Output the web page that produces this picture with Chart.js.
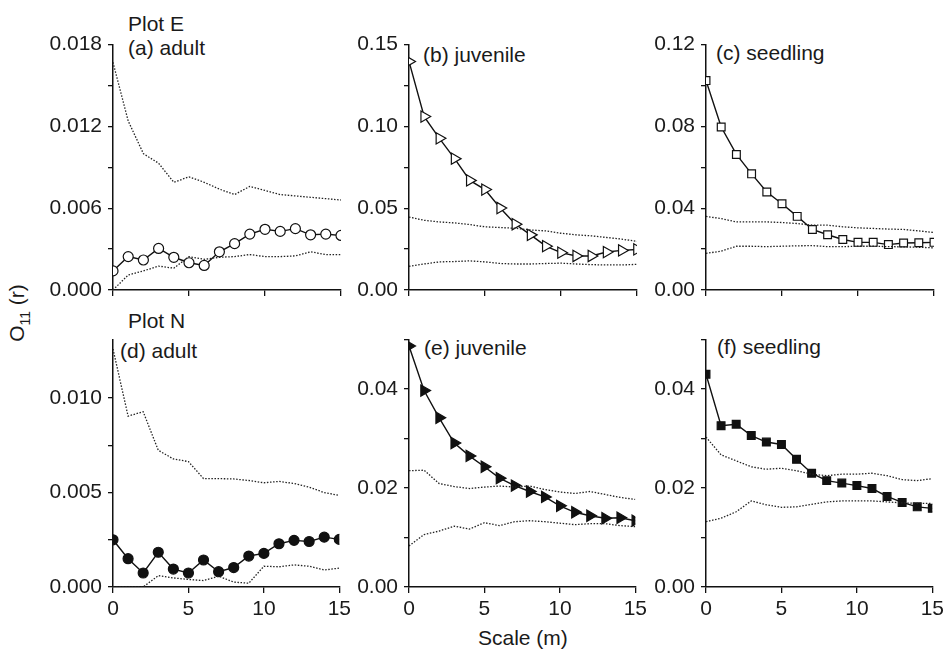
<!DOCTYPE html>
<html lang="en">
<head>
    <meta charset="UTF-8">
    <title>O11 (r) by scale</title>
    <script src="https://cdn.jsdelivr.net/npm/chart.js"></script>
    <style>
        body {
            margin: 0;
            background: #fff;
            font-family: "Liberation Sans", Arial, sans-serif;
        }
        #wrap {
            position: relative;
            width: 946px;
            height: 650px;
        }
        #wrap canvas {
            position: absolute;
        }
        .lbl {
            position: absolute;
            font-size: 21px;
            color: #1a1a1a;
            white-space: nowrap;
            line-height: 1;
        }
        #ytitle {
            position: absolute;
            left: 19px;
            top: 313px;
            font-size: 21px;
            color: #1a1a1a;
            white-space: nowrap;
            transform: translate(-50%, -50%) rotate(-90deg);
        }
        #ytitle sub { font-size: 14px; }
    </style>
</head>
<body>
<div id="wrap">
    <div id="ytitle">O<sub>11</sub> (r)</div>
    <div class="lbl" style="left:128px; top:13px;">Plot E</div>
    <div class="lbl" style="left:128px; top:37px;">(a) adult</div>
    <div class="lbl" style="left:423px; top:44px;">(b) juvenile</div>
    <div class="lbl" style="left:716px; top:42px;">(c) seedling</div>
    <div class="lbl" style="left:128px; top:310px;">Plot N</div>
    <div class="lbl" style="left:120px; top:340px;">(d) adult</div>
    <div class="lbl" style="left:424px; top:337px;">(e) juvenile</div>
    <div class="lbl" style="left:717px; top:336px;">(f) seedling</div>
    <div class="lbl" style="left:478px; top:627px;">Scale (m)</div>
</div>

<script>
    // scale (m)
    const scales = [0, 1, 2, 3, 4, 5, 6, 7, 8, 9, 10, 11, 12, 13, 14, 15];
    const xTicks = [0, 5, 10, 15];

    // Plot E
    const adultE = [0.0014, 0.00245, 0.0022, 0.00305, 0.0024, 0.002, 0.0018, 0.0028, 0.0034, 0.0041, 0.00445, 0.0043, 0.0045, 0.00405, 0.0041, 0.0040];
    const adultEHi = [0.0167, 0.0124, 0.0100, 0.0093, 0.0079, 0.0083, 0.0079, 0.0074, 0.0070, 0.0076, 0.0073, 0.0070, 0.0069, 0.0068, 0.0067, 0.0066];
    const adultELo = [0.0, 0.0011, 0.0014, 0.00175, 0.0016, 0.00245, 0.00225, 0.0024, 0.00245, 0.0026, 0.00245, 0.00245, 0.0025, 0.0028, 0.0026, 0.0026];

    const juvE = [0.1397, 0.106, 0.0927, 0.0803, 0.067, 0.0614, 0.0501, 0.0402, 0.0337, 0.0268, 0.0228, 0.0208, 0.0208, 0.0232, 0.0242, 0.0248];
    const juvEHi = [0.0446, 0.0426, 0.0416, 0.041, 0.040, 0.0386, 0.0382, 0.0377, 0.0367, 0.0361, 0.0347, 0.0337, 0.0331, 0.0321, 0.0311, 0.0297];
    const juvELo = [0.0145, 0.0159, 0.0172, 0.0174, 0.0178, 0.0172, 0.0162, 0.0159, 0.0159, 0.0162, 0.0164, 0.0159, 0.0155, 0.0153, 0.0153, 0.0157];

    const seedE = [0.1024, 0.0797, 0.0663, 0.0568, 0.0479, 0.0422, 0.036, 0.0296, 0.027, 0.0247, 0.0233, 0.0233, 0.0222, 0.023, 0.0231, 0.0233];
    const seedEHi = [0.036, 0.0349, 0.0333, 0.0333, 0.0333, 0.033, 0.0325, 0.0317, 0.0317, 0.0309, 0.0304, 0.0301, 0.0298, 0.0296, 0.0289, 0.0281];
    const seedELo = [0.0179, 0.019, 0.0214, 0.0214, 0.0212, 0.0214, 0.0216, 0.0217, 0.0212, 0.0212, 0.0214, 0.0214, 0.0212, 0.0211, 0.0209, 0.0206];

    // Plot N
    const adultN = [0.0025, 0.0015, 0.00074, 0.00184, 0.00095, 0.00074, 0.00143, 0.00081, 0.00103, 0.00164, 0.00178, 0.00229, 0.00247, 0.00241, 0.00264, 0.00252];
    const adultNHi = [0.0126, 0.00905, 0.00928, 0.00724, 0.00678, 0.00664, 0.00574, 0.00574, 0.00572, 0.00564, 0.00552, 0.00559, 0.00548, 0.00529, 0.0050, 0.00485];
    const adultNLo = [0, 0, 0, 0.0006, 0.00048, 0.0004, 0.00034, 0.00057, 0.00026, 0.0002, 0.0011, 0.00107, 0.00117, 0.0011, 0.0009, 0.0010];

    const juvN = [0.0487, 0.0397, 0.0342, 0.0291, 0.0265, 0.0243, 0.022, 0.0205, 0.0193, 0.0182, 0.0164, 0.0151, 0.0144, 0.0139, 0.014, 0.0134];
    const juvNHi = [0.0235, 0.0236, 0.0209, 0.0203, 0.0199, 0.0202, 0.0204, 0.0202, 0.0204, 0.0197, 0.0192, 0.0189, 0.0193, 0.0187, 0.0181, 0.0177];
    const juvNLo = [0.0083, 0.0106, 0.0113, 0.0123, 0.0117, 0.013, 0.0124, 0.0132, 0.0134, 0.0132, 0.0129, 0.0126, 0.0128, 0.0128, 0.0124, 0.0122];

    const seedN = [0.043, 0.0326, 0.0329, 0.0306, 0.0293, 0.0288, 0.0258, 0.023, 0.0215, 0.021, 0.0205, 0.0199, 0.0183, 0.0171, 0.0162, 0.0159];
    const seedNHi = [0.0303, 0.0267, 0.0255, 0.0243, 0.0238, 0.024, 0.0235, 0.0228, 0.0225, 0.0228, 0.0228, 0.023, 0.0225, 0.0217, 0.0215, 0.0219];
    const seedNLo = [0.0132, 0.0139, 0.0152, 0.0174, 0.0166, 0.0161, 0.0162, 0.0167, 0.0172, 0.0174, 0.0174, 0.0174, 0.0172, 0.017, 0.0169, 0.0169];

    // y axis ticks (labelled / unlabelled)
    const yMajorA = [0, 0.006, 0.012, 0.018], yMinorA = [0.003, 0.009, 0.015];
    const yMajorB = [0, 0.05, 0.10, 0.15], yMinorB = [0.025, 0.075, 0.125];
    const yMajorC = [0, 0.04, 0.08, 0.12], yMinorC = [0.02, 0.06, 0.10];
    const yMajorD = [0, 0.005, 0.010], yMinorD = [0.0025, 0.0075];
    const yMajorE = [0, 0.02, 0.04], yMinorE = [0.01, 0.03, 0.05];

    // panel boxes (chart area in page px)
    const colLeft = [113, 409, 706];
    const areaW = 228;
    const rowTop = [38, 333];
    const rowBottom = [290, 587];

    const PADL = 75, PADT = 12, PADR = 14, XH = 40;

    function makePanel(col, row, cfg) {
        const cv = document.createElement('canvas');
        const w = areaW + PADL + PADR;
        const h = rowBottom[row] - rowTop[row] + PADT + XH;
        cv.width = w; cv.height = h;
        cv.style.left = (colLeft[col] - PADL) + 'px';
        cv.style.top = (rowTop[row] - PADT) + 'px';
        cv.style.width = w + 'px'; cv.style.height = h + 'px';
        document.getElementById('wrap').appendChild(cv);

        const pts = (arr) => scales.map((s, i) => ({ x: s, y: arr[i] }));
        const env = (arr) => ({
            data: pts(arr),
            borderColor: '#222',
            borderWidth: 1.3,
            borderDash: [1.5, 1.6],
            pointRadius: 0,
            tension: 0
        });
        const allY = cfg.major.concat(cfg.minor).sort((a, b) => a - b);

        new Chart(cv, {
            type: 'line',
            data: {
                datasets: [
                    env(cfg.hi),
                    env(cfg.lo),
                    {
                        data: pts(cfg.obs),
                        borderColor: '#111',
                        borderWidth: 1.4,
                        pointStyle: cfg.style,
                        pointRotation: cfg.rot || 0,
                        pointRadius: cfg.r,
                        pointBorderWidth: 1.2,
                        pointBorderColor: '#111',
                        pointBackgroundColor: cfg.filled ? '#111' : '#fff',
                        tension: 0
                    }
                ]
            },
            options: {
                responsive: false,
                animation: false,
                events: [],
                layout: { padding: { left: 0, top: PADT, right: PADR, bottom: 0 } },
                plugins: { legend: { display: false }, tooltip: { enabled: false } },
                scales: {
                    x: {
                        type: 'linear',
                        min: 0, max: 15,
                        afterFit: (s) => { s.height = XH; },
                        afterBuildTicks: (s) => { s.ticks = xTicks.map(v => ({ value: v })); },
                        border: { display: true, color: '#111', width: 1.5 },
                        grid: { drawOnChartArea: false, drawTicks: true, tickLength: 6, color: '#111', lineWidth: 1.3 },
                        ticks: {
                            display: row === 1,
                            color: '#1a1a1a',
                            padding: 4,
                            maxRotation: 0,
                            font: { family: '"Liberation Sans", Arial, sans-serif', size: 21 },
                            callback: (v) => String(v)
                        }
                    },
                    y: {
                        type: 'linear',
                        min: 0, max: cfg.max,
                        afterFit: (s) => { s.width = PADL; },
                        afterBuildTicks: (s) => { s.ticks = allY.map(v => ({ value: v })); },
                        border: { display: true, color: '#111', width: 1.5 },
                        grid: { drawOnChartArea: false, drawTicks: true, tickLength: 5, color: '#111', lineWidth: 1.3 },
                        ticks: {
                            color: '#1a1a1a',
                            padding: 6,
                            autoSkip: false,
                            font: { family: '"Liberation Sans", Arial, sans-serif', size: 21 },
                            callback: (v) => cfg.major.some(m => Math.abs(m - v) < 1e-9) ? v.toFixed(cfg.dec) : ''
                        }
                    }
                }
            }
        });
    }

    makePanel(0, 0, { obs: adultE, hi: adultEHi, lo: adultELo, major: yMajorA, minor: yMinorA, max: 0.018, dec: 3, style: 'circle', r: 5, filled: false });
    makePanel(1, 0, { obs: juvE, hi: juvEHi, lo: juvELo, major: yMajorB, minor: yMinorB, max: 0.15, dec: 2, style: 'triangle', rot: 90, r: 6.5, filled: false });
    makePanel(2, 0, { obs: seedE, hi: seedEHi, lo: seedELo, major: yMajorC, minor: yMinorC, max: 0.12, dec: 2, style: 'rect', r: 5.5, filled: false });
    makePanel(0, 1, { obs: adultN, hi: adultNHi, lo: adultNLo, major: yMajorD, minor: yMinorD, max: 0.0131, dec: 3, style: 'circle', r: 5, filled: true });
    makePanel(1, 1, { obs: juvN, hi: juvNHi, lo: juvNLo, major: yMajorE, minor: yMinorE, max: 0.05, dec: 2, style: 'triangle', rot: 90, r: 6.5, filled: true });
    makePanel(2, 1, { obs: seedN, hi: seedNHi, lo: seedNLo, major: yMajorE, minor: yMinorE, max: 0.05, dec: 2, style: 'rect', r: 5.5, filled: true });
</script>
</body>
</html>
